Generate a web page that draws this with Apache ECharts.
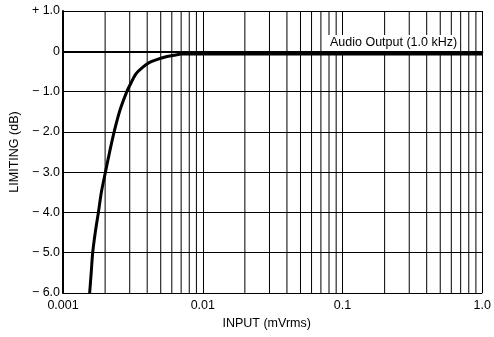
<!DOCTYPE html>
<html>
<head>
<meta charset="utf-8">
<script src="https://cdn.jsdelivr.net/npm/echarts@6/dist/echarts.min.js"></script>
<style>html,body{margin:0;padding:0;background:#fff;}#c{width:494px;height:337px;}</style>
</head>
<body>
<div id="c"></div>
<script>
// Data
var inputX = [0.00155, 0.00159, 0.00163, 0.0017, 0.00179, 0.00188, 0.00201, 0.00216, 0.00232, 0.00255, 0.00286, 0.00305, 0.00331, 0.00371, 0.00413, 0.00473, 0.00538, 0.00619, 0.00709, 0.01, 0.1, 1.0];
var limitingY = [-6.0, -5.5, -5.0, -4.5, -4.0, -3.5, -3.0, -2.48, -2.0, -1.47, -1.0, -0.8, -0.57, -0.4, -0.28, -0.2, -0.14, -0.1, -0.07, -0.07, -0.07, -0.07];
var xTickLabels = ['0.001', '0.01', '0.1', '1.0'];
var decades = [0.001, 0.01, 0.1];
var mult = [2, 3, 4, 5, 6, 7, 8, 9];
var minorGridX = [];
decades.forEach(function (d) { mult.forEach(function (m) { minorGridX.push(+(m * d).toPrecision(3)); }); });
var annotation = 'Audio Output (1.0 kHz)';

var FONT = '"Liberation Sans", Arial, sans-serif';
var chart = echarts.init(document.getElementById('c'), null, {renderer: 'canvas'});
var pts = inputX.map(function (x, i) { return [x, limitingY[i]]; });
var gridPts = [];
minorGridX.forEach(function (x) { gridPts.push([x, -6], [x, 1], [x, '-']); });

chart.setOption({
  animation: false,
  backgroundColor: '#fff',
  grid: {left: 59, right: 8, top: 11, bottom: 44},
  xAxis: {
    type: 'log', logBase: 10, min: 0.001, max: 1,
    name: 'INPUT (mVrms)', nameLocation: 'middle', nameGap: 24,
    nameTextStyle: {color: '#000', fontSize: 12.5, fontFamily: FONT, padding: [0, 12, 0, 0]},
    axisLine: {show: true, lineStyle: {color: '#000', width: 2}},
    axisTick: {show: false},
    axisLabel: {
      color: '#000', fontSize: 12.5, fontFamily: FONT, margin: 6,
      formatter: function (v) { var i = Math.round(Math.log10(v)) + 3; return xTickLabels[i] || ''; }
    },
    splitLine: {show: true, lineStyle: {color: '#000', width: 1}}
  },
  yAxis: {
    type: 'value', min: -6, max: 1, interval: 1,
    name: 'LIMITING (dB)', nameLocation: 'middle', nameGap: 40,
    nameTextStyle: {color: '#000', fontSize: 12.5, fontFamily: FONT},
    axisLine: {show: true, lineStyle: {color: '#000', width: 2}},
    axisTick: {show: false},
    axisLabel: {
      color: '#000', fontSize: 12.5, fontFamily: FONT, margin: 3,
      formatter: function (v) {
        if (v > 0) return '+ ' + v.toFixed(1);
        if (v === 0) return '0';
        return '\u2212 ' + Math.abs(v).toFixed(1);
      }
    },
    splitLine: {show: true, lineStyle: {color: '#000', width: 1}}
  },
  series: [{
    type: 'line',
    data: gridPts,
    connectNulls: false,
    symbol: 'none',
    silent: true,
    lineStyle: {color: '#000', width: 1},
    z: 1
  }, {
    type: 'line',
    data: pts,
    smooth: 0.3,
    symbol: 'none',
    lineStyle: {color: '#000', width: 3},
    z: 5
  }],
  graphic: [{
    type: 'text', left: 328, top: 35, z: 100,
    style: {
      text: annotation, fill: '#000', font: '12.5px ' + FONT,
      backgroundColor: '#fff', padding: [1, 2, 2, 2]
    }
  }]
});
</script>
</body>
</html>
